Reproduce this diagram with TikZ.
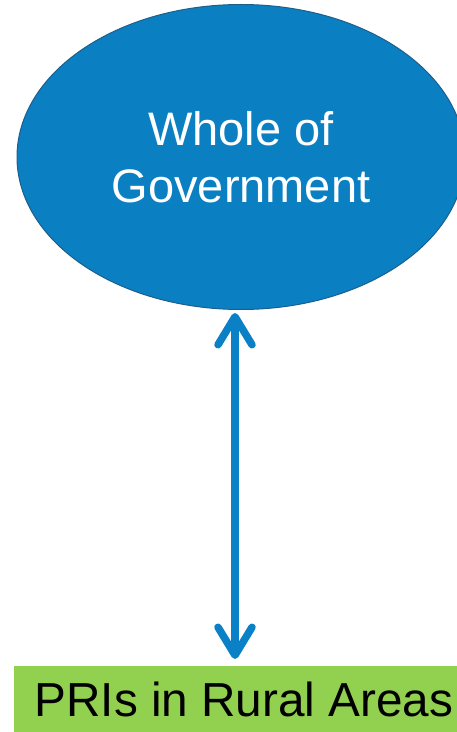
\documentclass[tikz,border=0pt]{standalone}
\usepackage{fontspec}
\setmainfont{Liberation Sans}
\usetikzlibrary{arrows.meta,shapes.geometric}
\definecolor{ellblue}{HTML}{0A7FC2}
\definecolor{ellborder}{HTML}{1D5F8C}
\definecolor{arrblue}{HTML}{0A80C6}
\definecolor{prigreen}{HTML}{92D050}
\tikzset{
  govnode/.style={ellipse, fill=ellblue, draw=ellborder, line width=1pt, minimum width=448pt, minimum height=305pt, inner sep=0pt, align=center, text=white, font=\fontsize{47}{57}\selectfont},
  prinode/.style={rectangle, fill=prigreen, inner sep=0pt, minimum width=460pt, minimum height=66pt, anchor=north west},
  pritext/.style={text=black, font=\fontsize{47.7}{57}\selectfont, anchor=base, inner sep=0pt},
  link/.style={arrblue, line width=7.5pt, line cap=round, {Straight Barb[length=28pt, width=34pt, line cap=round, line join=round]}-{Straight Barb[length=28pt, width=34pt, line cap=round, line join=round]}}
}
\begin{document}
\begin{tikzpicture}[x=1pt,y=1pt]
\useasboundingbox (0,0) rectangle (457,732);
\clip (0,0) rectangle (457,732);
\node[govnode] (gov) at (241,575) {Whole of\\Government};
\node[prinode] (pri) at (14,66) {};
\node[pritext] (pritxt) at (244,16) {PRIs in Rural Areas};
\draw[link, shorten <=3pt, shorten >=7pt] ([xshift=-6pt]gov.south) -- ([xshift=-6pt]gov.south |- pri.north);
\end{tikzpicture}
\end{document}
